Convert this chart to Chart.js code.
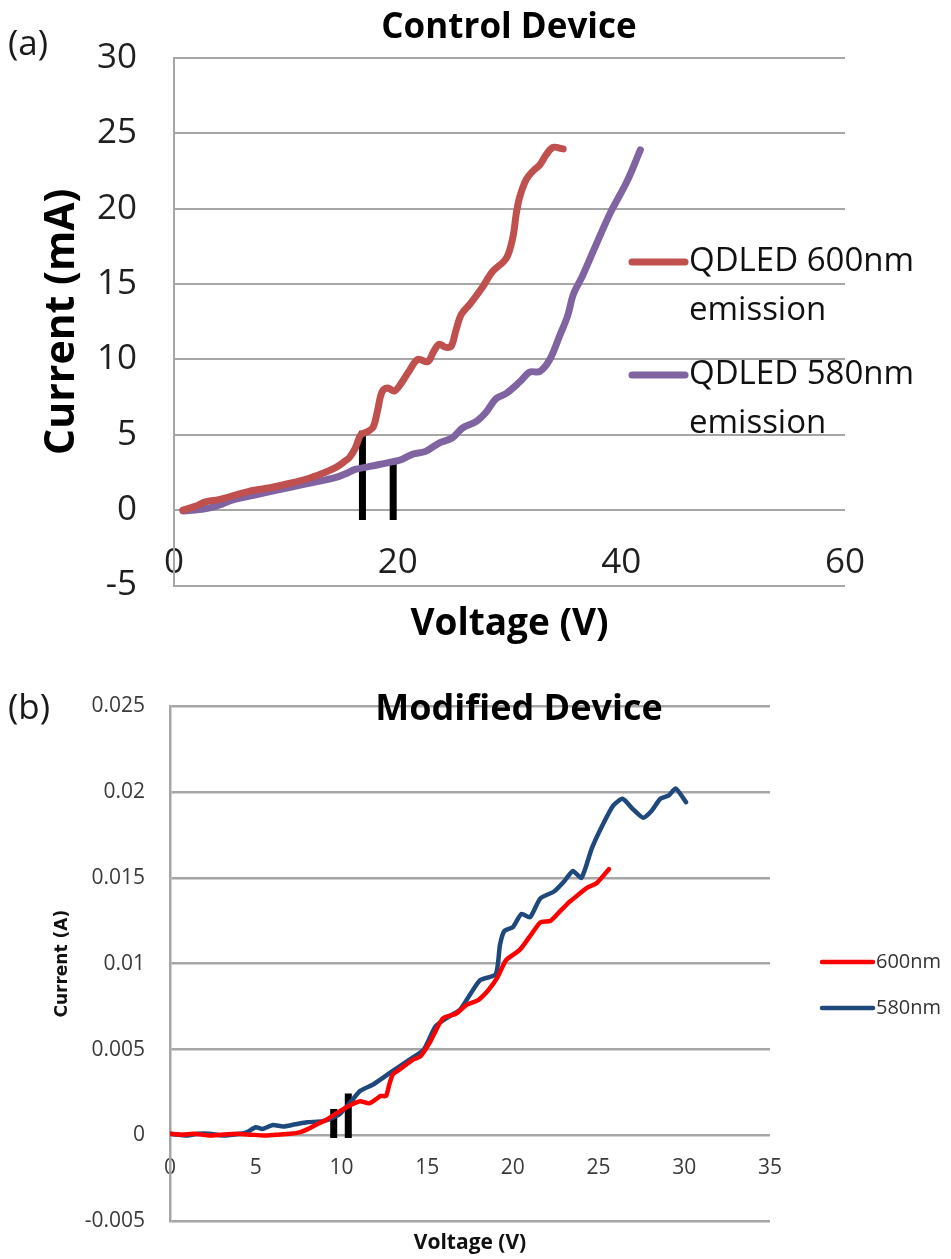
<!DOCTYPE html>
<html>
<head>
<meta charset="utf-8">
<title>QDLED current-voltage</title>
<script src="https://cdn.jsdelivr.net/npm/chart.js@4.4.1/dist/chart.umd.min.js"></script>
<style>
  body { margin: 0; background: #fff; width: 951px; height: 1259px; position: relative; overflow: hidden; font-family: "Open Sans", sans-serif; }
  .panel { position: absolute; left: 0; }
  .tag { position: absolute; left: 8px; font-size: 35px; line-height: 35px; color: #1a1a1a; }
</style>
</head>
<body>
<div class="panel" style="top:0"><canvas id="controlChart" width="951" height="655"></canvas></div>
<div class="panel" style="top:655px"><canvas id="modifiedChart" width="951" height="604"></canvas></div>
<span class="tag" style="top:24px">(a)</span>
<span class="tag" style="top:688px">(b)</span>

<script>
// (a) control device, current in mA
const ctrlNames = ["QDLED 600nm emission", "QDLED 580nm emission"];
const ctrl600V = [0.8, 1.9, 2.8, 4.0, 5.5, 6.7, 8.7, 10.5, 12.0, 13.3, 14.4, 15.2, 15.7, 16.2, 16.7, 17.3, 17.8, 18.2, 18.6, 19.1, 19.7, 20.3, 21.0, 21.8, 22.7, 23.2, 23.7, 24.3, 24.8, 25.2, 25.7, 26.5, 27.5, 28.5, 29.7, 30.3, 30.6, 30.9, 31.5, 32.1, 32.7, 33.3, 33.9, 34.8];
const ctrl600I = [0, 0.25, 0.55, 0.7, 1.0, 1.25, 1.5, 1.8, 2.1, 2.45, 2.8, 3.2, 3.5, 4.1, 5.0, 5.2, 5.5, 6.6, 7.85, 8.1, 7.9, 8.4, 9.2, 10.0, 9.85, 10.5, 11.0, 10.8, 10.9, 11.9, 13.0, 13.7, 14.7, 15.85, 16.7, 18.1, 19.65, 20.75, 21.95, 22.5, 22.9, 23.6, 24.07, 23.97];
const ctrl580V = [0.8, 1.9, 3.3, 4.3, 5.2, 7.5, 10.5, 12.5, 14.4, 15.3, 16.2, 17.5, 19.5, 20.3, 21.3, 22.5, 23.7, 24.9, 25.8, 27.0, 27.9, 28.8, 29.7, 30.9, 31.8, 32.7, 33.6, 34.5, 35.2, 35.7, 36.5, 37.5, 39.0, 40.5, 41.7];
const ctrl580I = [-0.05, 0, 0.17, 0.4, 0.66, 1.05, 1.53, 1.85, 2.15, 2.4, 2.7, 2.9, 3.2, 3.35, 3.7, 3.9, 4.45, 4.8, 5.45, 5.87, 6.5, 7.4, 7.74, 8.5, 9.16, 9.2, 10.0, 11.6, 12.9, 14.3, 15.5, 17.2, 19.7, 21.8, 23.9];
// turn-on markers (voltage, top of bar) and the common bar base
const ctrlMarkV = [16.85, 19.6];
const ctrlMarkTop = [5.26, 3.29];
const ctrlMarkBase = -0.66;

// (b) modified device, current in A
const modNames = ["600nm", "580nm"];
const mod600V = [0, 0.7, 1.4, 2.3, 3.0, 3.9, 4.7, 5.5, 6.2, 7.0, 7.6, 8.1, 8.6, 9.1, 9.5, 10.3, 10.8, 11.1, 11.6, 12.0, 12.3, 12.6, 12.8, 13.0, 13.4, 14.2, 14.6, 15.2, 15.9, 16.7, 17.3, 18.0, 18.6, 19.1, 19.6, 20.4, 21.0, 21.6, 22.2, 22.8, 23.3, 23.8, 24.3, 24.9, 25.6];
const mod600I = [0.0001, 0.00005, 0.0001, 0, 0.00005, 0.0001, 0.00005, 0, 0.00005, 0.0001, 0.0002, 0.0004, 0.00067, 0.0009, 0.00116, 0.00164, 0.0019, 0.002, 0.00187, 0.0021, 0.0023, 0.0023, 0.003, 0.00356, 0.00385, 0.00443, 0.0046, 0.0055, 0.0068, 0.0071, 0.0076, 0.0079, 0.0085, 0.0092, 0.0102, 0.0108, 0.0116, 0.0124, 0.0125, 0.0131, 0.0136, 0.014, 0.0144, 0.0147, 0.0155];
const mod580V = [0, 1.0, 1.6, 2.3, 3.1, 4.1, 4.5, 5.0, 5.4, 6.0, 6.6, 7.3, 8.0, 8.9, 9.4, 9.9, 10.5, 11.1, 11.9, 13.0, 14.0, 14.8, 15.5, 16.3, 16.9, 17.5, 18.1, 19.0, 19.25, 19.5, 20.0, 20.5, 21.0, 21.6, 22.4, 23.0, 23.5, 24.0, 24.6, 25.2, 25.85, 26.4, 27.0, 27.6, 28.1, 28.6, 29.1, 29.5, 30.1];
const mod580I = [0.0001, 0, 0.0001, 0.0001, 0, 0.0001, 0.0002, 0.00048, 0.00038, 0.00061, 0.00052, 0.00065, 0.00077, 0.00083, 0.001, 0.00125, 0.0019, 0.0026, 0.003, 0.00376, 0.00443, 0.005, 0.00636, 0.00694, 0.0073, 0.0082, 0.00905, 0.00938, 0.0111, 0.0119, 0.01213, 0.0129, 0.0127, 0.0138, 0.0142, 0.0148, 0.0154, 0.015, 0.0167, 0.018, 0.0192, 0.0196, 0.019, 0.0185, 0.0189, 0.0196, 0.0198, 0.0202, 0.0194];
const modMarkV = [9.55, 10.4];
const modMarkTop = [0.00154, 0.00245];
const modMarkBase = -0.00014;

const FONT = "'Open Sans', 'Noto Sans', sans-serif";
const GRID = "#a6a6a6";

function toPoints(xs, ys) {
  return xs.map((x, i) => ({ x: x, y: ys[i] }));
}

function curve(label, xs, ys, color, width, tension) {
  return {
    label: label,
    data: toPoints(xs, ys),
    xAxisID: "x",
    showLine: true,
    borderColor: color,
    backgroundColor: color,
    borderWidth: width,
    borderCapStyle: "round",
    borderJoinStyle: "round",
    tension: tension,
    pointRadius: 0,
    inLegend: true
  };
}

// vertical black bars marking the turn-on voltages
function markers(vs, tops, base, width) {
  return vs.map((v, i) => ({
    label: "marker",
    data: [{ x: v, y: base }, { x: v, y: tops[i] }],
    xAxisID: "x",
    showLine: true,
    borderColor: "#000",
    borderWidth: width,
    borderCapStyle: "butt",
    pointRadius: 0,
    inLegend: false
  }));
}

// title text drawn over the plot (it sits on the top gridline in panel b)
const overlayTitle = {
  id: "overlayTitle",
  afterDraw(chart, args, o) {
    const ctx = chart.ctx;
    ctx.save();
    ctx.font = o.font;
    ctx.fillStyle = o.color;
    ctx.textAlign = "center";
    ctx.textBaseline = "middle";
    ctx.fillText(o.text, o.x, o.y);
    ctx.restore();
  }
};

// legend with a short line and wrapped label text
const sideLegend = {
  id: "sideLegend",
  afterDraw(chart, args, o) {
    const ctx = chart.ctx;
    ctx.save();
    ctx.font = o.font;
    ctx.textBaseline = "middle";
    let row = 0;
    chart.data.datasets.forEach(ds => {
      if (!ds.inLegend) return;
      const y = o.top + row * o.rowGap;
      ctx.strokeStyle = ds.borderColor;
      ctx.lineWidth = o.lineWidth;
      ctx.lineCap = "round";
      ctx.beginPath();
      ctx.moveTo(o.x, y);
      ctx.lineTo(o.x + o.lineLen, y);
      ctx.stroke();
      // wrap words to the available width
      const lines = [];
      let cur = "";
      ds.label.split(" ").forEach(w => {
        const test = cur ? cur + " " + w : w;
        if (cur && ctx.measureText(test).width > o.maxWidth) {
          lines.push(cur);
          cur = w;
        } else {
          cur = test;
        }
      });
      lines.push(cur);
      ctx.fillStyle = o.color;
      lines.forEach((t, j) => ctx.fillText(t, o.x + o.lineLen + o.gap, y + j * o.lineHeight));
      row++;
    });
    ctx.restore();
  }
};

new Chart(document.getElementById("controlChart"), {
  type: "scatter",
  data: {
    datasets: [
      curve(ctrlNames[0], ctrl600V, ctrl600I, "#c0504d", 7, 0.35),
      curve(ctrlNames[1], ctrl580V, ctrl580I, "#8064a2", 7, 0.35),
      ...markers(ctrlMarkV, ctrlMarkTop, ctrlMarkBase, 7)
    ]
  },
  options: {
    responsive: false,
    animation: false,
    layout: { padding: { left: 0, right: 106, top: 52, bottom: 0 } },
    plugins: {
      legend: { display: false },
      tooltip: { enabled: false },
      overlayTitle: { text: "Control Device", x: 509, y: 28, font: "bold 35px " + FONT, color: "#000" },
      sideLegend: { x: 632, top: 262, lineLen: 53, gap: 4, rowGap: 113, lineHeight: 49, lineWidth: 7, maxWidth: 240, font: "33px " + FONT, color: "#111" }
    },
    scales: {
      x: {
        type: "linear",
        min: 0,
        max: 60,
        position: { y: 0 },
        ticks: { stepSize: 20, padding: 32, color: "#1f1f1f", font: { family: FONT, size: 35 } },
        grid: { display: false, drawTicks: false },
        border: { display: false }
      },
      xt: {
        type: "linear",
        position: "bottom",
        ticks: { display: false },
        grid: { display: false, drawTicks: false },
        border: { display: false },
        title: { display: true, text: "Voltage (V)", color: "#000", font: { family: FONT, size: 37, weight: "bold" }, padding: { top: 0, bottom: 8 } },
        afterFit: s => { s.height = 69.5; }
      },
      y: {
        type: "linear",
        min: -5,
        max: 30,
        ticks: { stepSize: 5, padding: 37, color: "#1f1f1f", font: { family: FONT, size: 35 } },
        grid: { color: GRID, lineWidth: 2, drawTicks: false },
        border: { display: true, color: GRID, width: 2 },
        title: { display: true, text: "Current (mA)", color: "#000", font: { family: FONT, size: 41, weight: "bold" }, padding: { top: 38, bottom: 0 } },
        afterFit: s => { s.width = 174; }
      }
    }
  },
  plugins: [overlayTitle, sideLegend]
});

new Chart(document.getElementById("modifiedChart"), {
  type: "scatter",
  data: {
    datasets: [
      curve(modNames[0], mod600V, mod600I, "#ff0000", 4.5, 0.2),
      curve(modNames[1], mod580V, mod580I, "#1f497d", 4.5, 0.2),
      ...markers(modMarkV, modMarkTop, modMarkBase, 7)
    ]
  },
  options: {
    responsive: false,
    animation: false,
    layout: { padding: { left: 0, right: 181, top: 51, bottom: 0 } },
    plugins: {
      legend: { display: false },
      tooltip: { enabled: false },
      overlayTitle: { text: "Modified Device", x: 519, y: 55, font: "bold 36px " + FONT, color: "#000" },
      sideLegend: { x: 822, top: 307, lineLen: 51, gap: 3, rowGap: 46, lineHeight: 24, lineWidth: 4.5, maxWidth: 200, font: "20px " + FONT, color: "#333" }
    },
    scales: {
      x: {
        type: "linear",
        min: 0,
        max: 35,
        position: { y: 0 },
        ticks: { stepSize: 5, padding: 20, color: "#3a3a3a", font: { family: FONT, size: 21 } },
        grid: { display: false, drawTicks: false },
        border: { display: false }
      },
      xt: {
        type: "linear",
        position: "bottom",
        ticks: { display: false },
        grid: { display: false, drawTicks: false },
        border: { display: false },
        title: { display: true, text: "Voltage (V)", color: "#111", font: { family: FONT, size: 21, weight: "bold" }, padding: { top: 0, bottom: 0 } },
        afterFit: s => { s.height = 34.2; }
      },
      y: {
        type: "linear",
        min: -0.005,
        max: 0.025,
        ticks: {
          stepSize: 0.005,
          padding: 25,
          color: "#3a3a3a",
          font: { family: FONT, size: 21 },
          callback: v => String(+v.toFixed(3))
        },
        grid: { color: GRID, lineWidth: 2.5, drawTicks: false },
        border: { display: true, color: GRID, width: 2.5 },
        title: { display: true, text: "Current (A)", color: "#111", font: { family: "'DejaVu Sans', sans-serif", size: 17, weight: "bold" }, padding: { top: 52.8, bottom: 0 } },
        afterFit: s => { s.width = 170; }
      }
    }
  },
  plugins: [overlayTitle, sideLegend]
});
</script>
</body>
</html>
